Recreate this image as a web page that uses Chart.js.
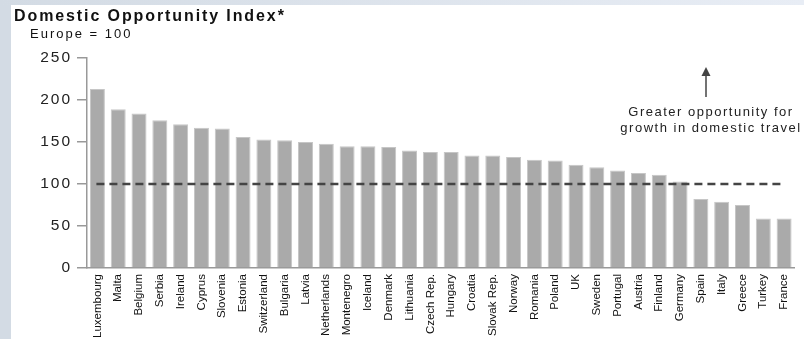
<!DOCTYPE html>
<html>
<head>
<meta charset="utf-8">
<script src="https://cdn.jsdelivr.net/npm/chart.js@4/dist/chart.umd.min.js"></script>
<style>
  html, body { margin: 0; padding: 0; background: #fff; }
  #wrap { position: relative; width: 804px; height: 339px; overflow: hidden; }
  #left-strip { position: absolute; left: 0; top: 0; width: 11px; height: 339px; background: #d3dbe4; }
  #top-strip { position: absolute; left: 0; top: 0; width: 804px; height: 5px; background: linear-gradient(to right, #d3dbe4, #e8edf5); }
  canvas { position: absolute; left: 0; top: 0; }
</style>
</head>
<body>
<div id="wrap">
  <div id="left-strip"></div>
  <div id="top-strip"></div>
  <canvas id="myChart" width="804" height="339"></canvas>
</div>
<script>
// countries, highest index first
let countries = [
  'Luxembourg', 'Malta', 'Belgium', 'Serbia', 'Ireland', 'Cyprus', 'Slovenia',
  'Estonia', 'Switzerland', 'Bulgaria', 'Latvia', 'Netherlands', 'Montenegro',
  'Iceland', 'Denmark', 'Lithuania', 'Czech Rep.', 'Hungary', 'Croatia',
  'Slovak Rep.', 'Norway', 'Romania', 'Poland', 'UK', 'Sweden', 'Portugal',
  'Austria', 'Finland', 'Germany', 'Spain', 'Italy', 'Greece', 'Turkey', 'France'
];
let indexValues = [
  213, 189, 184, 176, 171, 167, 166,
  156, 153, 152, 150, 148, 145,
  145, 144, 140, 138, 138, 134,
  134, 132, 129, 128, 123, 120, 116,
  113, 111, 103, 82, 79, 75, 59, 59
];
let yTicks = [0, 50, 100, 150, 200, 250];
let europeLevel = 100;

// dashed Europe = 100 line, from first to last bar centre
const europeLine = {
  id: 'europeLine',
  afterDatasetsDraw(chart) {
    const ctx = chart.ctx;
    const x = chart.scales.x;
    const y = chart.scales.y;
    const py = y.getPixelForValue(europeLevel);
    ctx.save();
    ctx.strokeStyle = '#444';
    ctx.lineWidth = 2.5;
    ctx.setLineDash([8, 5]);
    ctx.beginPath();
    ctx.moveTo(x.getPixelForValue(0) - 1, py);
    ctx.lineTo(x.getPixelForValue(countries.length - 1), py);
    ctx.stroke();
    ctx.restore();
  }
};

// wider spacing on the y tick numbers only
function spacedLabels(scale) {
  if (scale._spaced) return;
  scale._spaced = true;
  const orig = scale.drawLabels;
  scale.drawLabels = function (area) {
    this.ctx.letterSpacing = '2px';
    orig.call(this, area);
    this.ctx.letterSpacing = '0px';
  };
}

// title, subtitle and the arrow note
const notes = {
  id: 'notes',
  afterDraw(chart) {
    const ctx = chart.ctx;
    ctx.save();
    ctx.fillStyle = '#111';
    ctx.textBaseline = 'alphabetic';
    ctx.textAlign = 'left';
    ctx.letterSpacing = '1.9px';
    ctx.font = 'bold 16px "Liberation Sans", Arial, sans-serif';
    ctx.fillText('Domestic Opportunity Index*', 14, 21);
    ctx.letterSpacing = '2px';
    ctx.font = '13px "Liberation Sans", Arial, sans-serif';
    ctx.fillText('Europe = 100', 30, 38);

    const ax = chart.chartArea.left + 619;
    ctx.strokeStyle = '#444';
    ctx.fillStyle = '#444';
    ctx.lineWidth = 1.5;
    ctx.beginPath();
    ctx.moveTo(ax, 97);
    ctx.lineTo(ax, 74);
    ctx.stroke();
    ctx.beginPath();
    ctx.moveTo(ax, 67);
    ctx.lineTo(ax - 4.5, 76);
    ctx.lineTo(ax + 4.5, 76);
    ctx.closePath();
    ctx.fill();

    ctx.fillStyle = '#222';
    ctx.textAlign = 'center';
    ctx.letterSpacing = '1.5px';
    ctx.font = '13px "Liberation Sans", Arial, sans-serif';
    ctx.fillText('Greater opportunity for', ax + 5, 116);
    ctx.fillText('growth in domestic travel', ax + 5, 132);
    ctx.restore();
  }
};

const ctx = document.getElementById('myChart').getContext('2d');
const chart = new Chart(ctx, {
  type: 'bar',
  data: {
    labels: countries,
    datasets: [{
      label: 'Domestic Opportunity Index',
      data: indexValues,
      backgroundColor: '#aaaaaa',
      borderColor: '#c6c6c6',
      borderWidth: 1,
      categoryPercentage: 1,
      barPercentage: 0.72
    }]
  },
  options: {
    responsive: false,
    animation: false,
    layout: { padding: { top: 58, right: 7, left: 0, bottom: 0 } },
    plugins: {
      legend: { display: false },
      tooltip: { enabled: false }
    },
    scales: {
      x: {
        grid: { display: true, drawOnChartArea: false, drawTicks: false },
        border: { display: true, color: '#999', width: 1.5 },
        ticks: {
          autoSkip: false,
          minRotation: 90,
          maxRotation: 90,
          padding: 6,
          color: '#111',
          font: { family: '"Liberation Sans", Arial, sans-serif', size: 11.5 }
        },
        afterFit(scale) { scale.height = 71; }
      },
      y: {
        min: 0,
        max: 250,
        afterBuildTicks(scale) {
          scale.ticks = yTicks.map(v => ({ value: v }));
        },
        grid: {
          drawOnChartArea: false,
          drawTicks: true,
          tickLength: 10,
          color: '#999',
          lineWidth: 1.5
        },
        border: { display: true, color: '#999', width: 1.5 },
        ticks: {
          padding: 5,
          color: '#222',
          font: { family: '"Liberation Sans", Arial, sans-serif', size: 15.5 }
        },
        afterFit(scale) {
          scale.width = 87;
          spacedLabels(scale);
        }
      }
    }
  },
  plugins: [europeLine, notes]
});
</script>
</body>
</html>
